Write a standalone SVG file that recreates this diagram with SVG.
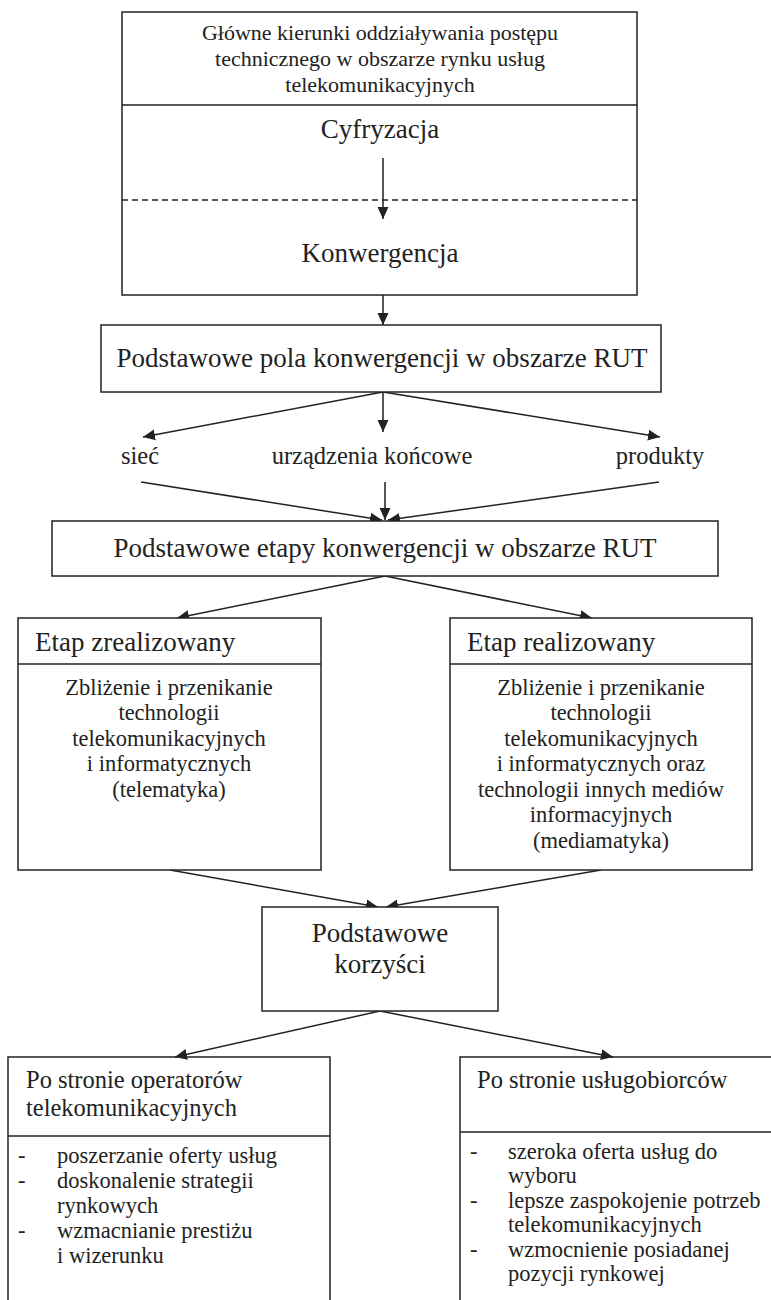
<svg xmlns="http://www.w3.org/2000/svg" width="771" height="1300" viewBox="0 0 771 1300">
<style>
.b{fill:#fff;stroke:#222;stroke-width:1.5}
.l{fill:none;stroke:#222;stroke-width:1.5}
.c{stroke:#222;stroke-width:1.5;fill:none;marker-end:url(#ah)}
text{font-family:"Liberation Serif","Times New Roman",serif;fill:#222}
.top{font-size:22px}
.big{font-size:27px}
.lab{font-size:24.5px}
.body{font-size:22.5px}
.hdr{font-size:24.5px}
.m{text-anchor:middle}
</style>
<defs>
<marker id="ah" viewBox="0 0 12 12" refX="12" refY="6" markerWidth="12" markerHeight="12" markerUnits="userSpaceOnUse" orient="auto">
<path d="M0,0.5 L12,6 L0,11.5 z" fill="#222"/>
</marker>
</defs>
<rect width="771" height="1300" fill="#fff"/>

<g id="connectors">
<line class="c" x1="383" y1="158" x2="383" y2="219"/>
<line class="c" x1="383" y1="295" x2="383" y2="325"/>
<line class="c" x1="383" y1="392" x2="143" y2="437"/>
<line class="c" x1="383" y1="392" x2="383" y2="432"/>
<line class="c" x1="383" y1="392" x2="660" y2="437"/>
<line class="c" x1="141" y1="482" x2="382" y2="520"/>
<line class="c" x1="385" y1="482" x2="385" y2="520"/>
<line class="c" x1="659" y1="482" x2="388" y2="520"/>
<line class="c" x1="385" y1="576" x2="177" y2="618"/>
<line class="c" x1="385" y1="576" x2="592" y2="618"/>
<line class="c" x1="170" y1="870" x2="378" y2="907"/>
<line class="c" x1="601" y1="870" x2="386" y2="907"/>
<line class="c" x1="380" y1="1011" x2="175" y2="1057"/>
<line class="c" x1="380" y1="1011" x2="613" y2="1057"/>
</g>

<g id="node-glowne">
<rect class="l" x="122" y="12" width="515" height="283"/>
<line class="l" x1="122" y1="105" x2="637" y2="105"/>
<line class="l" x1="122" y1="200" x2="637" y2="200" stroke-dasharray="6,4"/>
<text class="top m" x="380" y="40">Główne kierunki oddziaływania postępu</text>
<text class="top m" x="380" y="66">technicznego w obszarze rynku usług</text>
<text class="top m" x="380" y="92">telekomunikacyjnych</text>
<text class="big m" x="380" y="138">Cyfryzacja</text>
<text class="big m" x="380" y="262">Konwergencja</text>
</g>

<g id="node-pola">
<rect class="b" x="101" y="325" width="560" height="67"/>
<text class="big m" x="382" y="367">Podstawowe pola konwergencji w obszarze RUT</text>
</g>

<g id="node-siec"><text class="lab m" x="140" y="464">sieć</text></g>
<g id="node-urzadzenia"><text class="lab m" x="372" y="464">urządzenia końcowe</text></g>
<g id="node-produkty"><text class="lab m" x="660" y="464">produkty</text></g>

<g id="node-etapy">
<rect class="b" x="52" y="521" width="666" height="55"/>
<text class="big m" x="385" y="557">Podstawowe etapy konwergencji w obszarze RUT</text>
</g>

<g id="node-zrealizowany">
<rect class="b" x="18" y="618" width="303" height="252"/>
<line class="l" x1="18" y1="664" x2="321" y2="664"/>
<text class="big" x="35" y="651">Etap zrealizowany</text>
<text class="body m" x="169" y="695">Zbliżenie i przenikanie</text>
<text class="body m" x="169" y="720">technologii</text>
<text class="body m" x="169" y="746">telekomunikacyjnych</text>
<text class="body m" x="169" y="771">i informatycznych</text>
<text class="body m" x="169" y="797">(telematyka)</text>
</g>

<g id="node-realizowany">
<rect class="b" x="450" y="618" width="302" height="252"/>
<line class="l" x1="450" y1="664" x2="752" y2="664"/>
<text class="big" x="467" y="651">Etap realizowany</text>
<text class="body m" x="601" y="695">Zbliżenie i przenikanie</text>
<text class="body m" x="601" y="720">technologii</text>
<text class="body m" x="601" y="746">telekomunikacyjnych</text>
<text class="body m" x="601" y="771">i informatycznych oraz</text>
<text class="body m" x="601" y="797">technologii innych mediów</text>
<text class="body m" x="601" y="822">informacyjnych</text>
<text class="body m" x="601" y="848">(mediamatyka)</text>
</g>

<g id="node-korzysci">
<rect class="b" x="262" y="907" width="236" height="104"/>
<text class="big m" x="380" y="942">Podstawowe</text>
<text class="big m" x="380" y="973">korzyści</text>
</g>

<g id="node-operatorzy">
<path class="l" d="M8,1302 V1057 H330 V1302"/>
<line class="l" x1="8" y1="1136" x2="330" y2="1136"/>
<text class="hdr" x="26" y="1088">Po stronie operatorów</text>
<text class="hdr" x="26" y="1116">telekomunikacyjnych</text>
<text class="body" x="18" y="1163">-</text><text class="body" x="57" y="1163">poszerzanie oferty usług</text>
<text class="body" x="18" y="1188">-</text><text class="body" x="57" y="1188">doskonalenie strategii</text>
<text class="body" x="57" y="1213">rynkowych</text>
<text class="body" x="18" y="1238">-</text><text class="body" x="57" y="1238">wzmacnianie prestiżu</text>
<text class="body" x="57" y="1263">i wizerunku</text>
</g>

<g id="node-uslugobiorcy">
<path class="l" d="M460,1302 V1057 H775"/>
<line class="l" x1="460" y1="1132" x2="775" y2="1132"/>
<text class="hdr" x="477" y="1088">Po stronie usługobiorców</text>
<text class="body" x="470" y="1159">-</text><text class="body" x="508" y="1159">szeroka oferta usług do</text>
<text class="body" x="508" y="1183">wyboru</text>
<text class="body" x="470" y="1208">-</text><text class="body" x="508" y="1208">lepsze zaspokojenie potrzeb</text>
<text class="body" x="508" y="1232">telekomunikacyjnych</text>
<text class="body" x="470" y="1257">-</text><text class="body" x="508" y="1257">wzmocnienie posiadanej</text>
<text class="body" x="508" y="1281">pozycji rynkowej</text>
</g>
</svg>
